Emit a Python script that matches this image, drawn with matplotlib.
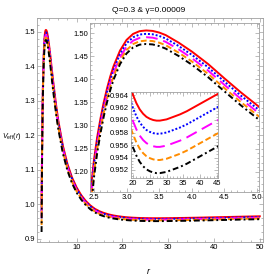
import matplotlib
matplotlib.use("Agg")
import matplotlib.pyplot as plt
from matplotlib.ticker import MultipleLocator

plt.rcParams['font.family'] = ['Liberation Sans', 'DejaVu Sans']
plt.rcParams['mathtext.fontset'] = 'custom'
plt.rcParams['mathtext.it'] = 'Liberation Sans:italic'
plt.rcParams['mathtext.rm'] = 'Liberation Sans'

r = [2.35, 2.4, 2.45, 2.5, 2.55, 2.6, 2.65, 2.7, 2.75, 2.8, 2.9, 3.0, 3.1, 3.2, 3.3, 3.4, 3.5, 3.6,
     3.8, 4.0, 4.25, 4.5, 4.75, 5.0, 5.5, 6, 7, 8, 9, 10, 11, 12, 13, 14, 15, 16, 17, 18, 19, 20,
     21, 22, 23, 24, 25, 26, 27, 28, 29, 30, 32, 34, 36, 38, 40, 42, 44, 45, 47.5, 50]

v_red = [1.000, 1.085, 1.160, 1.225, 1.275, 1.315, 1.350, 1.380, 1.406, 1.428, 1.462, 1.485, 1.498,
         1.504, 1.5055, 1.5045, 1.501, 1.4955, 1.479, 1.460, 1.433, 1.402, 1.372, 1.344, 1.290, 1.243,
         1.170, 1.117, 1.078, 1.049, 1.027, 1.010, 0.997, 0.987, 0.980, 0.975, 0.971, 0.968, 0.9658,
         0.9640, 0.9627, 0.9617, 0.9610, 0.9605, 0.9602, 0.9600, 0.9599, 0.9599, 0.9600, 0.9601,
         0.9605, 0.9609, 0.9614, 0.9620, 0.9626, 0.9632, 0.9638, 0.9641, 0.9648, 0.9655]
v_blue = [0.980, 1.069, 1.148, 1.2155, 1.2665, 1.307, 1.3423, 1.3725, 1.3986, 1.4207, 1.4547, 1.4777,
          1.4907, 1.4967, 1.4982, 1.4972, 1.4937, 1.4882, 1.4718, 1.4529, 1.4259, 1.395, 1.365, 1.337,
          1.2834, 1.2368, 1.1645, 1.1122, 1.0738, 1.0453, 1.0237, 1.007, 0.9942, 0.9844, 0.9775,
          0.9726, 0.9687, 0.9658, 0.9636, 0.9619, 0.9606, 0.9596, 0.9589, 0.9584, 0.9581, 0.9579,
          0.9578, 0.9578, 0.9579, 0.9580, 0.9584, 0.9588, 0.9593, 0.9599, 0.9605, 0.9611, 0.9617,
          0.9620, 0.9627, 0.9634]
v_magenta = [0.960, 1.053, 1.136, 1.206, 1.258, 1.299, 1.3346, 1.365, 1.3912, 1.4134, 1.4474, 1.4704,
             1.4834, 1.4894, 1.4909, 1.4899, 1.4864, 1.4809, 1.4646, 1.4458, 1.4188, 1.388, 1.358,
             1.330, 1.2768, 1.2306, 1.159, 1.1074, 1.0696, 1.0416, 1.0204, 1.004, 0.9914, 0.9818,
             0.975, 0.9702, 0.9664, 0.9636, 0.9614, 0.9598, 0.9585, 0.9575, 0.9568, 0.9563, 0.9560,
             0.9558, 0.9557, 0.9557, 0.9558, 0.9559, 0.9563, 0.9567, 0.9572, 0.9578, 0.9584, 0.9590,
             0.9596, 0.9599, 0.9606, 0.9613]
v_orange = [0.940, 1.037, 1.124, 1.1965, 1.2495, 1.291, 1.3269, 1.3575, 1.3838, 1.4061, 1.4401, 1.4631,
            1.4761, 1.4821, 1.4836, 1.4826, 1.4791, 1.4736, 1.4574, 1.4387, 1.4117, 1.381, 1.351, 1.323,
            1.2702, 1.2244, 1.1535, 1.1026, 1.0654, 1.0379, 1.0171, 1.001, 0.9886, 0.9792, 0.9725,
            0.9678, 0.9641, 0.9614, 0.9592, 0.9577, 0.9564, 0.9554, 0.9547, 0.9542, 0.9539, 0.9537,
            0.9536, 0.9536, 0.9537, 0.9538, 0.9542, 0.9546, 0.9551, 0.9557, 0.9563, 0.9569, 0.9575,
            0.9578, 0.9585, 0.9592]
v_black = [0.920, 1.021, 1.112, 1.187, 1.241, 1.283, 1.3192, 1.350, 1.3764, 1.3988, 1.4328, 1.4558,
           1.4688, 1.4748, 1.4763, 1.4753, 1.4718, 1.4663, 1.4502, 1.4316, 1.4046, 1.374, 1.344, 1.316,
           1.2636, 1.2182, 1.148, 1.0978, 1.0612, 1.0342, 1.0138, 0.998, 0.9858, 0.9766, 0.970,
           0.9654, 0.9618, 0.9592, 0.9570, 0.9556, 0.9543, 0.9533, 0.9526, 0.9521, 0.9518, 0.9516,
           0.9515, 0.9515, 0.9516, 0.9517, 0.9521, 0.9525, 0.9530, 0.9536, 0.9542, 0.9548, 0.9554,
           0.9557, 0.9564, 0.9571]

series = [
    (v_red, '#ff0000', '-'),
    (v_blue, '#0000ff', (0, (1, 1))),
    (v_magenta, '#ff00ff', (0, (6, 3))),
    (v_orange, '#ff8c00', (0, (3, 1.5))),
    (v_black, '#000000', (0, (3, 1.5, 1, 1.5))),
]

W, H = 266, 280
fig = plt.figure(figsize=(W / 100, H / 100), dpi=100)
fig.patch.set_facecolor('white')

def box(l, t, rr, b):
    return [l / W, 1 - b / H, (rr - l) / W, (b - t) / H]

frame_c = '#a0a0a0'
fs = 5.5

def style(ax, xmaj, xmin, ymaj, ymin):
    for s in ax.spines.values():
        s.set_color(frame_c)
        s.set_linewidth(0.6)
    ax.xaxis.set_major_locator(MultipleLocator(xmaj))
    ax.xaxis.set_minor_locator(MultipleLocator(xmin))
    ax.yaxis.set_major_locator(MultipleLocator(ymaj))
    ax.yaxis.set_minor_locator(MultipleLocator(ymin))
    ax.tick_params(which='both', direction='in', top=True, right=True, color=frame_c,
                   labelsize=fs, width=0.5, pad=1.5)
    ax.tick_params(which='major', length=3)
    ax.tick_params(which='minor', length=1.6)

ax = fig.add_axes(box(37, 18, 263, 242))
for v, c, ls in series:
    ax.plot(r, v, color=c, ls=ls, lw=1.4)
ax.set_xlim(1.35, 50.7)
ax.set_ylim(0.891, 1.54)
style(ax, 10, 2, 0.1, 0.02)
ax.yaxis.set_major_formatter(plt.FuncFormatter(lambda y, p: f"{y:.1f}"))
fig.text(149 / W, 1 - 10 / H, 'Q=0.3 & γ=0.00009', ha='center', va='center', fontsize=6)
fig.text(2 / W, 1 - 137 / H, r'$V_{\mathrm{eff}}(r)$', ha='left', va='center', fontsize=5.2)
fig.text(149 / W, 1 - 271 / H, r'$r$', ha='center', va='center', fontsize=6.5)

ax1 = fig.add_axes(box(90, 23, 259, 192))
for v, c, ls in series:
    ax1.plot(r, v, color=c, ls=ls, lw=1.4)
ax1.set_xlim(2.44, 5.03)
ax1.set_ylim(1.1566, 1.5216)
style(ax1, 0.5, 0.1, 0.05, 0.01)
ax1.yaxis.set_major_formatter(plt.FuncFormatter(lambda y, p: f"{y:.2f}"))

ax2 = fig.add_axes(box(131, 92, 218, 178))
for v, c, ls in series:
    ax2.plot(r, v, color=c, ls=ls, lw=1.4)
ax2.set_xlim(19.4, 45.3)
ax2.set_ylim(0.95072, 0.96448)
style(ax2, 5, 1, 0.002, 0.0005)
ax2.yaxis.set_major_formatter(plt.FuncFormatter(lambda y, p: f"{y:.3f}"))

fig.savefig('out.png', dpi=100, facecolor='white')
